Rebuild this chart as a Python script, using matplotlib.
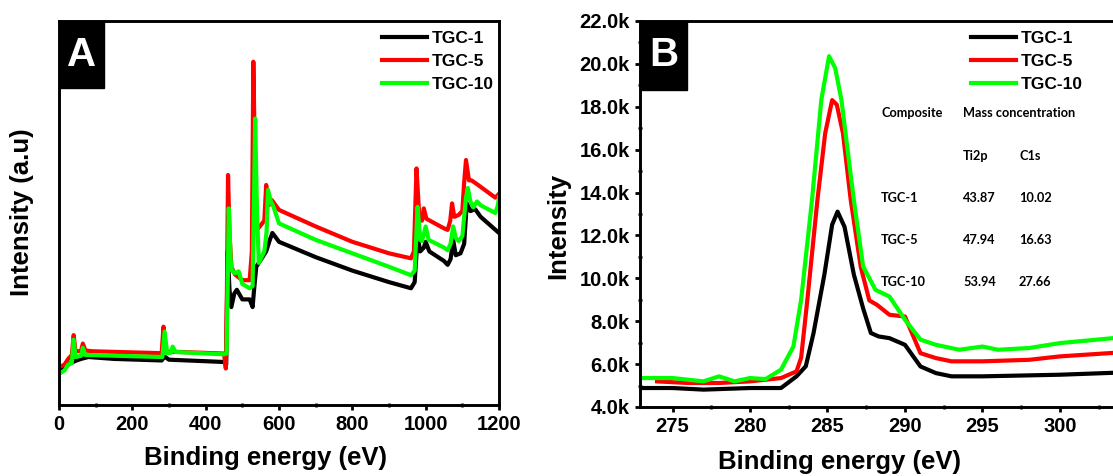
import matplotlib.pyplot as plt
from matplotlib.patches import Rectangle
from matplotlib.ticker import MultipleLocator, FuncFormatter

plt.rcParams["font.family"] = ["Liberation Sans", "DejaVu Sans"]
plt.rcParams["font.weight"] = "bold"

# survey spectra (binding energy, arbitrary intensity)
survey_x_tgc1 = [0, 10, 20, 30, 45, 60, 80, 150, 280, 288, 300, 450, 456, 460, 465, 470, 478,
                 485, 500, 520, 528, 532, 538, 555, 565, 575, 582, 600, 700, 800, 900, 960,
                 970, 978, 985, 995, 1000, 1010, 1050, 1060, 1068, 1075, 1082, 1095, 1105,
                 1112, 1122, 1135, 1150, 1200]
survey_y_tgc1 = [9.0, 9.5, 10.2, 10.8, 11.5, 12.0, 12.5, 12.0, 11.6, 12.6, 11.8, 11.2, 10.5,
                 40.0, 30.0, 25.5, 29.0, 30.0, 27.5, 27.5, 25.5, 30.0, 36.0, 38.5, 40.0, 43.0,
                 44.8, 42.5, 38.5, 35.0, 32.0, 30.4, 32.0, 44.0, 40.0, 41.0, 42.5, 40.0, 37.5,
                 36.5, 38.0, 43.0, 39.0, 39.5, 42.0, 52.5, 50.5, 51.0, 49.0, 44.8]

survey_x_tgc5 = [0, 15, 25, 35, 40, 45, 60, 65, 72, 90, 200, 280, 285, 291, 300, 450, 455, 458,
                 461, 465, 470, 480, 500, 520, 526, 530, 535, 540, 560, 565, 572, 580, 600,
                 700, 800, 900, 960, 968, 975, 982, 990, 995, 1002, 1050, 1060, 1067, 1072,
                 1078, 1090, 1100, 1105, 1110, 1118, 1125, 1140, 1190, 1200]
survey_y_tgc5 = [9.9, 10.5, 12.0, 13.0, 18.2, 14.0, 14.0, 16.0, 14.2, 14.0, 13.7, 13.5, 20.4,
                 13.8, 13.9, 13.4, 9.5, 30.0, 59.9, 45.0, 36.0, 34.0, 32.5, 32.5, 40.0, 89.4,
                 60.0, 45.6, 48.0, 57.3, 52.0, 53.4, 50.8, 46.5, 42.5, 39.5, 38.2, 40.0, 61.6,
                 50.0, 48.0, 51.2, 48.5, 46.0, 45.6, 48.0, 52.5, 49.0, 49.5, 50.5, 58.0, 63.8,
                 58.5, 58.5, 57.5, 54.0, 55.0]

survey_x_tgc10 = [0, 15, 25, 35, 40, 45, 60, 65, 72, 90, 200, 282, 288, 295, 305, 310, 318,
                  450, 457, 460, 463, 468, 472, 480, 490, 500, 520, 528, 532, 535, 540, 545,
                  560, 566, 570, 578, 585, 600, 700, 800, 900, 960, 970, 978, 985, 990, 1000,
                  1008, 1050, 1060, 1068, 1075, 1082, 1090, 1100, 1110, 1115, 1122, 1130,
                  1140, 1150, 1190, 1197, 1200]
survey_y_tgc10 = [8.1, 9.0, 10.5, 11.0, 17.0, 12.5, 12.8, 14.9, 13.0, 13.0, 12.7, 12.5, 19.1,
                  13.5, 13.6, 15.2, 13.8, 13.2, 13.4, 30.0, 51.2, 38.0, 35.0, 34.3, 34.8, 31.5,
                  30.4, 31.0, 55.0, 74.6, 50.0, 37.0, 40.0, 45.0, 56.0, 53.0, 51.6, 47.3, 43.0,
                  39.5, 36.0, 33.8, 35.0, 51.6, 43.0, 42.7, 46.5, 43.0, 41.0, 40.3, 42.0, 46.5,
                  43.5, 42.7, 44.0, 54.0, 56.5, 53.0, 51.5, 53.0, 52.0, 50.0, 52.0, 54.0]

# C1s region
c1s_x_tgc1 = [272.9, 275, 277, 280, 282, 283, 283.6, 284.1, 284.8, 285.3, 285.65, 286.1,
              286.7, 287.3, 287.8, 288.3, 289, 290, 291, 292, 293, 295, 300, 304]
c1s_y_tgc1 = [4885, 4885, 4810, 4885, 4885, 5430, 5900, 7450, 10180, 12500, 13110, 12400,
              10180, 8600, 7450, 7290, 7210, 6900, 5890, 5580, 5430, 5430, 5505, 5610]

c1s_x_tgc5 = [274, 276, 278, 280, 282, 283, 283.3, 283.7, 284.35, 284.85, 285.3, 285.6, 286.0,
              286.5, 287.15, 287.7, 288.2, 289, 290, 291, 292, 293, 295, 298, 300, 304]
c1s_y_tgc5 = [5195, 5120, 5120, 5195, 5350, 5660, 6300, 9000, 13650, 16760, 18310, 18100,
              16760, 13650, 10520, 8970, 8760, 8300, 8220, 6510, 6280, 6130, 6130, 6200,
              6360, 6550]

c1s_x_tgc10 = [272.9, 275, 277, 278, 279, 280, 281, 282, 282.8, 283.3, 284.0, 284.6, 285.1,
               285.5, 285.9, 286.7, 287.3, 288.1, 289, 290, 291, 292, 293.5, 295, 296, 298,
               300, 304]
c1s_y_tgc10 = [5350, 5350, 5195, 5430, 5195, 5350, 5300, 5740, 6820, 9000, 13650, 18310,
               20360, 19800, 18310, 13650, 10550, 9460, 9150, 8070, 7140, 6900, 6670, 6820,
               6670, 6750, 6980, 7250]

series_names = ["TGC-1", "TGC-5", "TGC-10"]
series_colors = ["black", "#ff0000", "#00ff00"]

table_rows = [["Composite", "Mass concentration", ""],
              ["", "Ti2p", "C1s"],
              ["TGC-1", "43.87", "10.02"],
              ["TGC-5", "47.94", "16.63"],
              ["TGC-10", "53.94", "27.66"]]

fig = plt.figure(figsize=(11.13, 4.76), dpi=100)
W, H = 1113, 476


def axes_px(left, top, right, bottom):
    return fig.add_axes([left / W, 1 - bottom / H, (right - left) / W, (bottom - top) / H])


def style_axes(ax):
    for sp in ax.spines.values():
        sp.set_linewidth(2.1)
    ax.tick_params(which="major", direction="out", length=3.5, width=2, labelsize=14.5, pad=4)
    ax.tick_params(which="minor", direction="inout", length=3, width=1.8)
    for lab in ax.get_xticklabels() + ax.get_yticklabels():
        lab.set_fontweight("bold")


def panel_tag(ax, letter, w, h):
    ax.add_patch(Rectangle((0, 1 - h), w, h, transform=ax.transAxes, color="black",
                           zorder=5, clip_on=False))
    ax.text(w / 2, 1 - h / 2, letter, transform=ax.transAxes, color="white", fontsize=29,
            fontweight="bold", ha="center", va="center", zorder=6)


def add_legend(ax, x_left):
    ax.legend(loc="upper left", frameon=False, handlelength=2.6, handletextpad=0.25,
              labelspacing=0.45, borderaxespad=0.0, borderpad=0.0,
              bbox_to_anchor=(x_left, 0.975), prop={"weight": "bold", "size": 12.5})


# panel A: survey
ax1 = axes_px(59, 21, 499, 405)
survey = [(survey_x_tgc1, survey_y_tgc1), (survey_x_tgc5, survey_y_tgc5),
          (survey_x_tgc10, survey_y_tgc10)]
for (x, y), name, c in zip(survey, series_names, series_colors):
    ax1.plot(x, y, color=c, lw=3, label=name)
ax1.set_xlim(0, 1200)
ax1.set_ylim(0, 100)
ax1.xaxis.set_major_locator(MultipleLocator(200))
ax1.xaxis.set_minor_locator(MultipleLocator(100))
ax1.set_yticks([])
style_axes(ax1)
add_legend(ax1, (382 - 59) / 440)
panel_tag(ax1, "A", 45 / 440, 67 / 384)

# panel B: C1s
ax2 = axes_px(640, 21, 1125, 407)
c1s = [(c1s_x_tgc1, c1s_y_tgc1), (c1s_x_tgc5, c1s_y_tgc5), (c1s_x_tgc10, c1s_y_tgc10)]
for (x, y), name, c in zip(c1s, series_names, series_colors):
    ax2.plot(x, y, color=c, lw=3, label=name, solid_joinstyle="round")
ax2.set_xlim(272.9, 304.2)
ax2.set_ylim(4000, 22000)
ax2.xaxis.set_major_locator(MultipleLocator(5))
ax2.xaxis.set_minor_locator(MultipleLocator(2.5))
ax2.yaxis.set_major_locator(MultipleLocator(2000))
ax2.yaxis.set_minor_locator(MultipleLocator(1000))
ax2.yaxis.set_major_formatter(FuncFormatter(lambda v, p: f"{v / 1000:.1f}k"))
style_axes(ax2)
add_legend(ax2, (971 - 640) / 485)
panel_tag(ax2, "B", 47 / 485, 69 / 386)

# composition table
col_x = [881, 963, 1019]
row_y = [113, 156, 198, 240, 282]
for row, y in zip(table_rows, row_y):
    for txt, x in zip(row, col_x):
        if txt:
            fig.text(x / W, 1 - y / H, txt, fontsize=9.2, fontweight="bold",
                     family=["Lato", "DejaVu Sans"], va="center", ha="left")

fig.text(266 / W, 1 - 458 / H, "Binding energy (eV)", fontsize=18.5, fontweight="bold",
         ha="center", va="center")
fig.text(839 / W, 1 - 462 / H, "Binding energy (eV)", fontsize=18.5, fontweight="bold",
         ha="center", va="center")
fig.text(22 / W, 1 - 212 / H, "Intensity (a.u)", fontsize=18.5, fontweight="bold",
         ha="center", va="center", rotation=90)
fig.text(558 / W, 1 - 226 / H, "Intensity", fontsize=18.5, fontweight="bold",
         ha="center", va="center", rotation=90)

fig.savefig("out.png", dpi=100)
